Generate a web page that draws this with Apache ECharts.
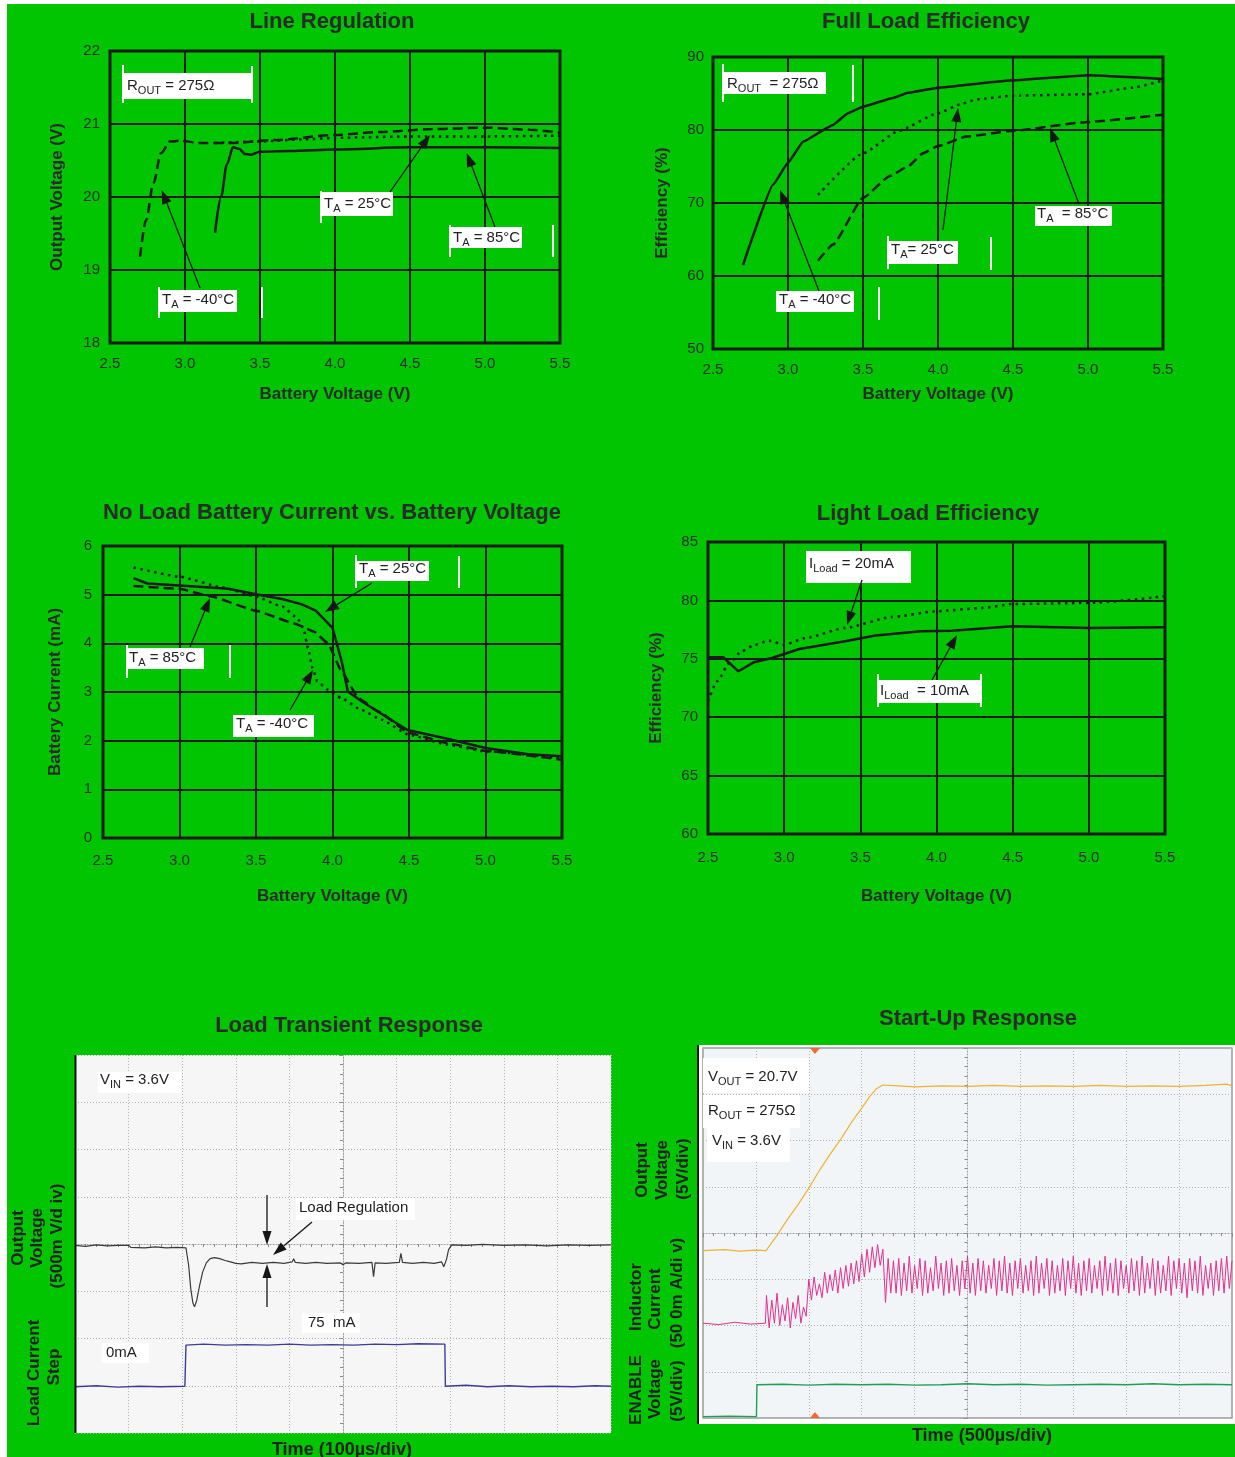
<!DOCTYPE html>
<html>
<head>
<meta charset="utf-8">
<script src="https://cdn.jsdelivr.net/npm/echarts@6/dist/echarts.min.js"></script>
<style>
  html, body { margin: 0; padding: 0; background: #fff; }
  #wrap { position: relative; width: 1235px; height: 1457px; overflow: hidden; }
  #bg { position: absolute; left: 7px; top: 4px; right: 0; bottom: 0; background: #00c500; }
  #main { position: absolute; left: 0; top: 0; width: 1235px; height: 1457px; }
</style>
</head>
<body>
<div id="wrap"><div id="bg"></div><div id="main"></div></div>
<script>
// ---- data ----
// Line Regulation: [battery V, output V]
var lineRegM40 = [[2.70,19.18],[2.74,19.68],[2.79,20.19],[2.84,20.60],[2.90,20.76],[2.97,20.77],[3.1,20.74],[3.32,20.74],[3.6,20.78],[4.0,20.85],[4.3,20.89],[4.65,20.93],[5.0,20.95],[5.3,20.92],[5.5,20.88]];
var lineReg25 = [[3.2,20.74],[3.5,20.76],[3.8,20.79],[4.0,20.81],[4.5,20.83],[5.0,20.83],[5.5,20.84]];
var lineReg85 = [[3.20,19.51],[3.24,20.0],[3.28,20.45],[3.32,20.68],[3.36,20.66],[3.40,20.59],[3.44,20.58],[3.5,20.62],[3.7,20.63],[4.0,20.65],[4.5,20.68],[5.0,20.68],[5.5,20.67]];

// Full Load Efficiency: [battery V, %]
var fullM40 = [[2.7,61.5],[2.9,72.5],[3.0,75.5],[3.1,78.4],[3.3,80.7],[3.4,82.3],[3.5,83.2],[3.7,84.4],[3.8,85.1],[4.0,85.8],[4.5,86.8],[5.0,87.5],[5.5,87.0]];
var full25 = [[3.2,71.1],[3.5,76.8],[3.74,79.9],[4.0,82.3],[4.16,83.6],[4.26,84.2],[4.5,84.7],[5.0,84.9],[5.3,85.8],[5.5,86.8]];
var full85 = [[3.2,62.1],[3.3,64.3],[3.5,70.7],[3.68,73.7],[3.8,75.0],[3.9,76.8],[4.0,77.8],[4.19,79.1],[4.5,79.9],[5.0,81.1],[5.5,82.1]];

// No Load Battery Current: [battery V, mA]
var noLoad25 = [[2.70,5.34],[2.79,5.23],[3.0,5.19],[3.32,5.12],[3.5,5.01],[3.67,4.91],[3.80,4.80],[3.89,4.67],[4.0,4.32],[4.06,3.63],[4.1,3.01],[4.19,2.81],[4.28,2.63],[4.49,2.22],[4.75,2.04],[5.0,1.85],[5.28,1.72],[5.5,1.68]];
var noLoad85 = [[2.70,5.18],[3.0,5.12],[3.21,4.96],[3.5,4.67],[3.75,4.41],[3.88,4.24],[3.97,4.0],[4.06,3.42],[4.17,2.87],[4.3,2.6],[4.5,2.16],[4.75,1.95],[5.0,1.79],[5.5,1.61]];
var noLoadM40 = [[2.70,5.56],[3.0,5.37],[3.28,5.15],[3.5,4.96],[3.67,4.76],[3.77,4.52],[3.81,4.31],[3.84,3.90],[3.87,3.49],[3.9,3.22],[3.97,3.05],[4.06,2.87],[4.19,2.63],[4.32,2.43],[4.5,2.12],[4.75,1.92],[5.0,1.78],[5.5,1.64]];

// Light Load Efficiency: [battery V, %]
var light10 = [[2.5,75.13],[2.6,75.13],[2.7,73.93],[2.8,74.7],[2.92,75.07],[3.1,75.84],[3.4,76.5],[3.6,77.0],[3.9,77.35],[4.1,77.4],[4.5,77.78],[5.0,77.64],[5.5,77.7]];
var light20 = [[2.5,71.36],[2.56,73.07],[2.64,74.64],[2.72,75.64],[2.81,76.21],[2.9,76.55],[3.0,76.21],[3.14,76.78],[3.4,77.64],[3.71,78.58],[3.99,79.06],[4.3,79.35],[4.5,79.69],[5.0,79.78],[5.5,80.35]];

// Load Transient scope traces: [time div from centre, div from centre]
var vOutTrace = [[-5,-0.03],[-4.8,-0.05],[-4.6,-0.02],[-4.4,-0.04],[-4.2,-0.03],[-4.0,-0.03],[-3.96,-0.07],[-3.7,-0.08],[-3.5,-0.06],[-3.3,-0.08],[-3.1,-0.07],[-2.93,-0.08],[-2.88,-0.45],[-2.84,-0.95],[-2.8,-1.25],[-2.77,-1.33],[-2.73,-1.2],[-2.68,-0.9],[-2.62,-0.6],[-2.55,-0.4],[-2.48,-0.31],[-2.4,-0.29],[-2.3,-0.31],[-2.2,-0.35],[-2.1,-0.38],[-2.0,-0.41],[-1.9,-0.42],[-1.7,-0.39],[-1.5,-0.41],[-1.3,-0.39],[-1.1,-0.41],[-0.95,-0.38],[-0.92,-0.31],[-0.89,-0.39],[-0.7,-0.41],[-0.5,-0.39],[-0.3,-0.41],[-0.05,-0.40],[0,-0.44],[0.05,-0.40],[0.3,-0.41],[0.54,-0.39],[0.57,-0.69],[0.6,-0.40],[0.8,-0.41],[1.05,-0.39],[1.08,-0.20],[1.11,-0.39],[1.3,-0.41],[1.5,-0.39],[1.7,-0.41],[1.84,-0.38],[1.88,-0.48],[1.93,-0.33],[1.97,-0.12],[2.03,-0.02],[2.3,-0.03],[2.6,-0.01],[3.0,-0.03],[3.4,-0.02],[3.8,-0.04],[4.2,-0.02],[4.6,-0.03],[5,-0.02]];
var loadStepTrace = [[-5,-3.02],[-4.6,-3.00],[-4.2,-3.03],[-3.8,-3.01],[-3.4,-3.02],[-2.95,-3.01],[-2.93,-2.14],[-2.6,-2.12],[-2.2,-2.14],[-1.8,-2.13],[-1.4,-2.14],[-1.0,-2.12],[-0.6,-2.14],[-0.2,-2.13],[0.2,-2.14],[0.6,-2.12],[1.0,-2.13],[1.4,-2.11],[1.9,-2.12],[1.91,-3.01],[2.3,-2.99],[2.7,-3.02],[3.1,-3.00],[3.5,-3.02],[3.9,-3.01],[4.3,-3.02],[4.7,-3.00],[5,-3.01]];

// Start-Up scope traces
var vOutStart = [[-5,-0.38],[-4.6,-0.36],[-4.3,-0.39],[-4.0,-0.37],[-3.81,-0.38],[-3.6,-0.05],[-3.4,0.3],[-3.2,0.62],[-3.0,0.97],[-2.8,1.35],[-2.6,1.7],[-2.4,2.02],[-2.2,2.38],[-2.0,2.7],[-1.85,2.95],[-1.72,3.12],[-1.6,3.2],[-1.3,3.18],[-1.0,3.16],[-0.5,3.18],[0,3.17],[0.5,3.19],[1.0,3.17],[1.5,3.18],[2.0,3.17],[2.5,3.19],[3.0,3.17],[3.5,3.18],[4.0,3.17],[4.5,3.19],[4.9,3.22],[5,3.18]];
var enableTrace = [[-5,-3.97],[-4.5,-3.96],[-3.99,-3.97],[-3.98,-3.28],[-3.5,-3.27],[-3.0,-3.29],[-2.5,-3.27],[-2.0,-3.28],[-1.5,-3.27],[-1.0,-3.29],[-0.5,-3.28],[0,-3.26],[0.5,-3.28],[1.0,-3.27],[1.5,-3.29],[2.0,-3.28],[2.5,-3.27],[3.0,-3.28],[3.5,-3.26],[4.0,-3.28],[4.5,-3.27],[5,-3.28]];
var inductorIdle = [[-5,-1.95],[-4.7,-1.98],[-4.4,-1.93],[-4.1,-1.97],[-3.82,-1.95]];
var inductorStart = -3.8, inductorStep = 0.05;
var inductorCurrent = [
  -1.35,-2.05,-1.45,-1.95,-1.3,-2.0,-1.55,-1.9,-1.4,-2.05,-1.5,-1.85,-1.35,-1.95,-1.6,-1.8,
  -1.0,-1.45,-0.95,-1.35,-1.1,-1.4,-0.85,-1.3,-0.9,-1.25,-0.8,-1.3,-0.75,-1.2,-0.7,-1.15,-0.65,-1.1,-0.6,-1.05,
  -0.45,-0.95,-0.35,-0.85,-0.3,-0.75,-0.25,-0.7,
  -0.35,-1.5,-0.55,-1.3,
  -0.6,-1.3,-0.55,-1.35,-0.65,-1.25,-0.5,-1.3,-0.7,-1.2,
  -0.55,-1.35,-0.6,-1.3,-0.75,-1.25,-0.5,-1.2,-0.65,-1.35,
  -0.6,-1.3,-0.55,-1.25,-0.7,-1.35,-0.6,-1.2,-0.5,-1.3,
  -0.65,-1.35,-0.55,-1.25,-0.6,-1.3,-0.7,-1.2,-0.55,-1.35,
  -0.6,-1.25,-0.5,-1.3,-0.65,-1.35,-0.6,-1.2,-0.55,-1.3,
  -0.7,-1.25,-0.6,-1.35,-0.5,-1.3,-0.65,-1.2,-0.55,-1.35,
  -0.6,-1.3,-0.7,-1.25,-0.55,-1.35,-0.6,-1.2,-0.5,-1.3,
  -0.65,-1.35,-0.6,-1.25,-0.55,-1.3,-0.7,-1.2,-0.6,-1.35,
  -0.5,-1.25,-0.65,-1.3,-0.55,-1.35,-0.6,-1.2,-0.7,-1.3,
  -0.55,-1.25,-0.6,-1.35,-0.5,-1.3,-0.65,-1.2,-0.55,-1.35,
  -0.6,-1.3,-0.7,-1.25,-0.5,-1.35,-0.6,-1.2,-0.55,-1.3,
  -0.65,-1.4,-0.55,-1.25,-0.6,-1.3,-0.5,-1.35,-0.7,-1.2,
  -0.65,-1.35,-0.6,-1.25,-0.55,-1.3,-0.5,-1.2,-0.6
];

// ---- styling / layout ----
var FONT = '"Liberation Sans", Arial, Helvetica, sans-serif';
var INK = '#1b1b1b';
var DASH = [10, 5];
var DOT = [2.5, 4.5];

var panels = [
  { grid: [110, 51, 450, 292], y: [18, 22, 1], yName: 'Output Voltage (V)', xGap: 43, yGap: 44, xMargin: 13, yMargin: 10 },
  { grid: [713, 57, 450, 292], y: [50, 90, 10], yName: 'Efficiency (%)', xGap: 37, yGap: 42, xMargin: 13, yMargin: 9 },
  { grid: [103, 546, 459, 292], y: [0, 6, 1], yName: 'Battery Current (mA)', xGap: 50, yGap: 39, xMargin: 15, yMargin: 11 },
  { grid: [708, 542, 457, 292], y: [60, 85, 5], yName: 'Efficiency (%)', xGap: 54, yGap: 43, xMargin: 16, yMargin: 10 }
];

var grids = [], xAxes = [], yAxes = [], series = [];

panels.forEach(function (p, i) {
  grids.push({ left: p.grid[0], top: p.grid[1], width: p.grid[2], height: p.grid[3], show: true,
    borderColor: INK, borderWidth: 3, backgroundColor: 'transparent', outerBoundsMode: 'none' });
  xAxes.push({
    gridIndex: i, type: 'value', min: 2.5, max: 5.5, interval: 0.5,
    name: 'Battery Voltage (V)', nameLocation: 'middle', nameGap: p.xGap,
    nameTextStyle: { fontFamily: FONT, fontSize: 17, fontWeight: 'bold', color: '#2a2a2a' },
    axisLine: { show: false }, axisTick: { show: false },
    axisLabel: { margin: p.xMargin, fontFamily: FONT, fontSize: 15, color: '#2e2e2e',
      formatter: function (v) { return v.toFixed(1); } },
    splitLine: { show: true, lineStyle: { color: INK, width: 2 } }
  });
  yAxes.push({
    gridIndex: i, type: 'value', min: p.y[0], max: p.y[1], interval: p.y[2],
    name: p.yName, nameLocation: 'middle', nameGap: p.yGap,
    nameTextStyle: { fontFamily: FONT, fontSize: 17, fontWeight: 'bold', color: '#2a2a2a' },
    axisLine: { show: false }, axisTick: { show: false },
    axisLabel: { margin: p.yMargin, fontFamily: FONT, fontSize: 15, color: '#2e2e2e' },
    splitLine: { show: true, lineStyle: { color: INK, width: 2 } }
  });
});

var curves = [
  [0, lineRegM40, DASH, 0.3], [0, lineReg25, DOT, 0.2], [0, lineReg85, 'solid', 0.3],
  [1, fullM40, 'solid', 0.1], [1, full25, DOT, 0.15], [1, full85, DASH, 0.15],
  [2, noLoad25, 'solid', 0], [2, noLoad85, DASH, 0.1], [2, noLoadM40, DOT, 0.15],
  [3, light10, 'solid', 0], [3, light20, DOT, 0.2]
];
curves.forEach(function (c) {
  series.push({ type: 'line', xAxisIndex: c[0], yAxisIndex: c[0], data: c[1], symbol: 'none',
    smooth: c[3], smoothMonotone: 'x', silent: true, z: 3,
    lineStyle: { color: INK, width: 2.5, type: c[2] } });
});

// scope panels
grids.push({ left: 75, top: 1055, width: 536, height: 378, show: true, backgroundColor: '#f6f6f6', borderWidth: 0, outerBoundsMode: 'none' });
grids.push({ left: 703, top: 1048, width: 529, height: 370, show: true, backgroundColor: '#f1f5f7', borderColor: '#9a9a9a', borderWidth: 1.5, outerBoundsMode: 'none' });
[4, 5].forEach(function (gi) {
  var common = {
    gridIndex: gi, type: 'value', interval: 1,
    axisLabel: { show: false },
    axisLine: { show: true, onZero: true, lineStyle: { color: '#9c9c9c', width: 1, type: [1, 2] } },
    axisTick: { show: true, length: 4, lineStyle: { color: '#8a8a8a' } },
    minorTick: { show: true, splitNumber: 5, length: 3, lineStyle: { color: '#8a8a8a' } },
    splitLine: { show: true, lineStyle: { color: '#b2b2b2', width: 1, type: [1, 2] } }
  };
  xAxes.push(Object.assign({}, common, { min: -5, max: 5 }));
  yAxes.push(Object.assign({}, common, { min: -4, max: 4 }));
});

function trace(gi, data, color, width) {
  series.push({ type: 'line', xAxisIndex: gi, yAxisIndex: gi, data: data, symbol: 'none', silent: true, z: 3,
    lineStyle: { color: color, width: width } });
}
trace(4, vOutTrace, '#3a3a3a', 1.2);
trace(4, loadStepTrace, '#3c3c98', 1.4);
var inductorTrace = inductorIdle.concat(inductorCurrent.map(function (v, i) {
  return [inductorStart + i * inductorStep, v];
}));
trace(5, inductorTrace, '#e2308e', 1);
trace(5, vOutStart, '#f0b232', 1.2);
trace(5, enableTrace, '#1ea052', 1.4);

// ---- annotations ----
var g = [];
var mctx = document.createElement('canvas').getContext('2d');
function tw(s, size) { mctx.font = size + 'px ' + FONT; return mctx.measureText(s).width; }
function box(x1, y1, x2, y2) {
  g.push({ type: 'rect', z: 20, shape: { x: x1, y: y1, width: x2 - x1, height: y2 - y1 }, style: { fill: '#fff' } });
}
function bar(x, y1, y2) {
  g.push({ type: 'rect', z: 20, shape: { x: x - 1, y: y1, width: 2, height: y2 - y1 }, style: { fill: '#fff' } });
}
function label(x, y, parts, size) {
  var cx = x;
  parts.forEach(function (p, i) {
    var isSub = i % 2 === 1;
    var s = isSub ? Math.round(size * 0.74) : size;
    if (p) {
      g.push({ type: 'text', z: 21, x: cx, y: isSub ? y + 4.5 : y,
        style: { text: p, fontFamily: FONT, fontSize: s, fill: '#222', align: 'left', verticalAlign: 'middle' } });
    }
    cx += tw(p, s);
  });
}
function arrow(x1, y1, x2, y2, len, wid) {
  var a = Math.atan2(y2 - y1, x2 - x1);
  var bx = x2 - len * Math.cos(a), by = y2 - len * Math.sin(a);
  var px = Math.sin(a) * wid / 2, py = -Math.cos(a) * wid / 2;
  g.push({ type: 'line', z: 21, shape: { x1: x1, y1: y1, x2: bx, y2: by }, style: { stroke: '#151515', lineWidth: 1.3 } });
  g.push({ type: 'polygon', z: 21, shape: { points: [[x2, y2], [bx + px, by + py], [bx - px, by - py]] }, style: { fill: '#151515' } });
}
function text(x, y, s, size, bold, rot) {
  g.push({ type: 'text', z: 21, x: x, y: y, rotation: rot ? Math.PI / 2 : 0,
    style: { text: s, fontFamily: FONT, fontSize: size, fontWeight: bold ? 'bold' : 'normal', fill: '#222',
      align: 'center', verticalAlign: 'middle' } });
}

// Line Regulation
box(123, 73, 252, 99); bar(123, 65, 103); bar(252, 66, 103);
label(127, 86, ['R', 'OUT', ' = 275Ω'], 15);
box(321, 192, 393, 216); bar(321, 191, 223);
label(324, 204, ['T', 'A', ' = 25°C'], 15);
box(450, 227, 522, 248); bar(450, 225, 257); bar(553, 225, 257);
label(453, 238, ['T', 'A', ' = 85°C'], 15);
box(159, 290, 237, 312); bar(159, 287, 318); bar(262, 287, 318);
label(162, 300, ['T', 'A', ' = -40°C'], 15);
arrow(200, 288, 161.7, 190, 14, 10);
arrow(390, 192, 430, 135, 14, 10);
arrow(495, 227, 466.7, 153, 14, 10);

// Full Load Efficiency
box(723, 72, 826, 94); bar(723, 64, 102); bar(853, 65, 102);
label(727, 84, ['R', 'OUT', '  = 275Ω'], 15);
box(1035, 206, 1112, 226);
label(1037, 214, ['T', 'A', '  = 85°C'], 15);
box(888, 241, 958, 264); bar(888, 236, 269); bar(991, 237, 270);
label(891, 250, ['T', 'A', '= 25°C'], 15);
box(776, 291, 854, 312); bar(879, 287, 320);
label(779, 300, ['T', 'A', ' = -40°C'], 15);
arrow(1079, 204, 1050, 128, 14, 10);
arrow(943, 230, 958, 108, 14, 10);
arrow(819, 291, 780, 190, 14, 10);

// No Load Battery Current
box(356, 561, 429, 581); bar(356, 555, 588); bar(459, 556, 588);
label(359, 569, ['T', 'A', ' = 25°C'], 15);
box(127, 648, 204, 669); bar(127, 645, 678); bar(230, 645, 678);
label(129, 658, ['T', 'A', ' = 85°C'], 15);
box(233, 715, 314, 737);
label(236, 724, ['T', 'A', ' = -40°C'], 15);
arrow(372, 583, 325, 612, 14, 10);
arrow(190, 647, 210, 598, 14, 10);
arrow(290, 710, 313, 670, 14, 10);

// Light Load Efficiency
box(806, 551, 911, 583);
label(809, 564, ['I', 'Load', ' = 20mA'], 15);
box(878, 680, 981, 703); bar(878, 674, 707); bar(981, 674, 707);
label(880, 691, ['I', 'Load', '  = 10mA'], 15);
arrow(862, 580, 847, 625, 14, 10);
arrow(932, 680, 957, 635, 14, 10);

// Load Transient
g.push({ type: 'line', z: 21, shape: { x1: 75.5, y1: 1055, x2: 75.5, y2: 1433 }, style: { stroke: '#111', lineWidth: 2 } });
box(98, 1072, 181, 1093);
label(100, 1080, ['V', 'IN', ' = 3.6V'], 15);
box(296, 1198, 415, 1220);
label(299, 1208, ['Load Regulation'], 15);
box(302, 1313, 360, 1333);
label(308, 1323, ['75  mA'], 15);
box(102, 1343, 149, 1363);
label(106, 1353, ['0mA'], 15);
arrow(267, 1195, 267, 1245, 14, 9);
arrow(267, 1307, 267, 1264, 14, 9);
arrow(312, 1222, 273, 1255, 14, 9);
text(18, 1238, 'Output', 17, true, true);
text(37, 1238, 'Voltage', 17, true, true);
text(57, 1236, '(500m V/d iv)', 17, true, true);
text(34, 1373, 'Load Current', 17, true, true);
text(54, 1367, 'Step', 17, true, true);
text(342, 1450, 'Time (100µs/div)', 18, true, false);

// Start-Up
g.push({ type: 'rect', z: -5, shape: { x: 697, y: 1045, width: 538, height: 379 }, style: { fill: '#fff' } });
g.push({ type: 'line', z: 21, shape: { x1: 698, y1: 1045, x2: 698, y2: 1424 }, style: { stroke: '#111', lineWidth: 2 } });
box(703, 1058, 809, 1093);
label(708, 1077, ['V', 'OUT', ' = 20.7V'], 15);
box(703, 1095, 800, 1128);
label(708, 1111, ['R', 'OUT', ' = 275Ω'], 15);
box(707, 1128, 790, 1162);
label(712, 1141, ['V', 'IN', ' = 3.6V'], 15);
g.push({ type: 'polygon', z: 21, shape: { points: [[810, 1048], [820, 1048], [815, 1054]] }, style: { fill: '#f06a30' } });
g.push({ type: 'polygon', z: 21, shape: { points: [[810, 1418], [820, 1418], [815, 1412]] }, style: { fill: '#f06a30' } });
text(642, 1170, 'Output', 17, true, true);
text(662, 1170, 'Voltage', 17, true, true);
text(683, 1169, '(5V/div)', 17, true, true);
text(636, 1297, 'Inductor', 17, true, true);
text(655, 1299, 'Current', 17, true, true);
text(677, 1293, '(50 0m A/di v)', 17, true, true);
text(636, 1390, 'ENABLE', 17, true, true);
text(655, 1389, 'Voltage', 17, true, true);
text(677, 1391, '(5V/div)', 17, true, true);
text(982, 1436, 'Time (500µs/div)', 18, true, false);

// ---- titles ----
var titleStyle = { fontFamily: FONT, fontSize: 22, fontWeight: 'bold', color: '#2a2a2a' };
function title(t, x, y) { return { text: t, left: x, top: y - 9, textAlign: 'center', padding: 0, textStyle: titleStyle }; }

var chart = echarts.init(document.getElementById('main'));
chart.setOption({
  animation: false,
  backgroundColor: 'transparent',
  title: [
    title('Line Regulation', 332, 20),
    title('Full Load Efficiency', 926, 20),
    title('No Load Battery Current vs. Battery Voltage', 332, 511),
    title('Light Load Efficiency', 928, 512),
    title('Load Transient Response', 349, 1024),
    title('Start-Up Response', 978, 1017)
  ],
  grid: grids,
  xAxis: xAxes,
  yAxis: yAxes,
  series: series,
  graphic: { elements: g }
});
window.addEventListener('resize', function () { chart.resize(); });
</script>
</body>
</html>
